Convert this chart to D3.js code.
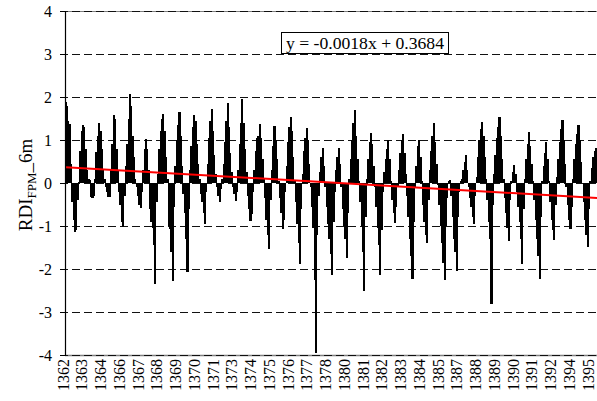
<!DOCTYPE html>
<html><head><meta charset="utf-8">
<script src="https://cdn.jsdelivr.net/npm/d3@7"></script>
<style>html,body{margin:0;padding:0;background:#fff}svg{display:block}</style>
</head><body>
<svg id="chart" width="597" height="401"></svg>
<script>
// Monthly RDI (FPM, 6-month) values, Mehr 1362 .. Esfand 1395, one row per water year
const rdi = [
  1.88, 1.80, 1.45, 1.38, 0.45, -0.45, -0.85, -1.13, -1.10, -0.40, 0.02, 0.74,
  1.20, 1.36, 1.30, 0.80, 0.30, 0.10, 0.08, -0.33, -0.35, -0.30, 0.10, 0.72,
  1.10, 1.40, 1.20, 0.80, 0.30, 0.10, -0.10, -0.20, -0.33, -0.32, 0.30, 0.90,
  1.58, 1.50, 0.80, 0.30, -0.20, -0.50, -0.90, -1.03, -0.30, 0.40, 0.90, 1.50,
  2.07, 1.80, 1.10, 0.60, 0.10, -0.10, -0.30, -0.50, -0.57, -0.20, 0.30, 0.80,
  1.02, 0.80, 0.30, -0.60, -0.90, -1.05, -1.45, -2.36, -0.45, 0.20, 0.80, 1.20,
  1.50, 1.60, 1.20, 0.60, 0.10, -1.00, -1.07, -1.60, -2.28, -0.55, 0.40, 1.00,
  1.35, 1.66, 1.10, 0.40, -0.25, -0.70, -1.30, -2.06, -0.60, 0.30, 0.85, 1.30,
  1.59, 1.45, 0.90, 0.45, 0.10, -0.25, -0.45, -0.70, -0.96, -0.20, 0.45, 1.05,
  1.45, 1.71, 1.20, 0.65, 0.20, -0.10, -0.30, -0.45, -0.15, 0.10, 0.45, 0.95,
  1.45, 1.87, 1.30, 0.70, 0.25, -0.10, -0.25, -0.41, -0.20, 0.30, 0.90, 1.40,
  1.95, 1.40, 0.80, 0.25, -0.30, -0.60, -0.88, -0.72, -0.20, 0.30, 0.75, 1.05,
  1.10, 1.38, 1.05, 0.55, 0.10, -0.35, -0.85, -1.20, -1.54, -0.40, 0.30, 0.85,
  1.32, 1.00, 0.55, 0.05, -0.35, -0.70, -1.07, -0.85, -0.20, 0.40, 0.95, 1.30,
  1.53, 1.20, 0.60, 0.05, -0.45, -0.95, -1.40, -1.89, -0.60, 0.20, 0.75, 1.05,
  1.28, 1.00, 0.45, -0.10, -0.55, -1.05, -2.25, -3.95, -1.20, -0.30, 0.25, 0.60,
  0.81, 0.40, -0.10, -0.55, -0.95, -1.30, -1.65, -2.15, -0.90, -0.20, 0.30, 0.60,
  0.81, 0.45, -0.10, -0.60, -1.00, -1.30, -1.75, -0.70, 0.10, 0.55, 1.00, 1.40,
  1.69, 1.10, 0.55, 0.05, -0.45, -1.00, -1.60, -2.50, -0.80, 0.10, 0.55, 0.95,
  1.17, 0.90, 0.40, -0.10, -0.55, -1.05, -1.45, -2.15, -1.10, -0.20, 0.25, 0.55,
  0.80, 0.99, 0.55, 0.05, -0.40, -0.70, -0.92, -0.55, -0.10, 0.30, 0.70, 1.00,
  1.14, 0.70, 0.20, -0.30, -0.80, -1.30, -1.70, -2.23, -0.90, -0.10, 0.40, 0.85,
  1.01, 0.60, 0.05, -0.50, -0.90, -1.20, -1.39, -0.40, 0.30, 0.75, 1.10, 1.39,
  0.95, 0.45, -0.05, -0.50, -1.00, -1.40, -1.85, -2.26, -1.00, -0.35, 0.05, 0.08,
  -0.30, -0.80, -1.30, -1.60, -2.05, -0.80, -0.20, 0.05, 0.10, 0.30, 0.50, 0.64,
  0.30, -0.10, -0.35, -0.55, -0.80, -0.96, -0.30, 0.15, 0.60, 1.00, 1.25, 1.43,
  1.10, 0.60, 0.10, -0.40, -0.90, -1.30, -2.81, -0.50, 0.20, 0.65, 1.05, 1.30,
  1.53, 1.10, 0.55, 0.10, -0.35, -0.70, -1.05, -1.35, -0.40, 0.05, 0.25, 0.42,
  0.20, -0.20, -0.55, -0.90, -1.30, -1.89, -0.60, 0.10, 0.55, 0.90, 1.18, 0.85,
  0.45, 0.05, -0.40, -0.85, -1.30, -1.70, -2.24, -0.80, 0.05, 0.40, 0.70, 0.95,
  0.55, 0.05, -0.45, -0.85, -1.10, -1.33, -0.50, 0.15, 0.55, 0.95, 1.25, 1.46,
  1.00, 0.45, -0.10, -0.50, -0.85, -1.07, -0.55, 0.10, 0.55, 0.90, 1.15, 1.35,
  1.00, 0.50, 0.00, -0.45, -0.85, -1.20, -1.48, -0.60, 0.05, 0.35, 0.60, 0.75,
  0.81, 0.55, 0.10, -0.35, -0.80, -1.10
];
// category axis labels (shown every 14th month)
const xTickLabels = ["1362","1363","1364","1366","1367","1368","1369","1370","1371","1373",
  "1374","1375","1376","1377","1378","1380","1381","1382","1383","1384","1385","1387",
  "1388","1389","1390","1391","1392","1394","1395"];
const xTickStep = 14;
const yTicks = [-4, -3, -2, -1, 0, 1, 2, 3, 4];
const trendSlope = -0.0018;
const trendIntercept = 0.3684;
const equationText = "y = -0.0018x + 0.3684";

(function () {
const svg = d3.select("#chart");
const W = 597, H = 401;
const mLeft = 65, mTop = 11, mBottom = 355;
const mRight = mLeft + rdi.length * 1.339;
const font = "'Liberation Serif','Times New Roman',serif";

svg.append("rect").attr("width", W).attr("height", H).attr("fill", "#fff");

const x = d3.scaleBand().domain(d3.range(rdi.length)).range([mLeft, mRight]).padding(0);
const y = d3.scaleLinear().domain([-4, 4]).range([mBottom, mTop]);

// plot border (grey) top & bottom
svg.append("line").attr("x1", mLeft).attr("x2", mRight).attr("y1", mTop + 0.5).attr("y2", mTop + 0.5)
  .attr("stroke", "#808080").attr("stroke-width", 1);
svg.append("line").attr("x1", mLeft).attr("x2", mRight).attr("y1", mBottom + 0.5).attr("y2", mBottom + 0.5)
  .attr("stroke", "#808080").attr("stroke-width", 1.5);

// dashed gridlines
svg.append("g").selectAll("line").data(yTicks).join("line")
  .attr("x1", mLeft - 5).attr("x2", mRight)
  .attr("y1", d => Math.round(y(d)) + 0.5).attr("y2", d => Math.round(y(d)) + 0.5)
  .attr("stroke", "#111").attr("stroke-width", 1)
  .attr("stroke-dasharray", "8,4");

// bars
svg.append("g").attr("shape-rendering", "crispEdges").selectAll("rect").data(rdi).join("rect")
  .attr("x", (d, i) => x(i) - 0.4)
  .attr("width", x.bandwidth() + 0.8)
  .attr("y", d => y(Math.max(0, d)))
  .attr("height", d => Math.abs(y(d) - y(0)))
  .attr("fill", "#000");

// trend line
const tl = [0, rdi.length - 1];
svg.append("line")
  .attr("x1", x(tl[0]) + x.bandwidth() / 2)
  .attr("x2", x(tl[1]) + x.bandwidth() / 2)
  .attr("y1", y(trendSlope * (tl[0] + 1) + trendIntercept))
  .attr("y2", y(trendSlope * (tl[1] + 1) + trendIntercept))
  .attr("stroke", "#ff0000").attr("stroke-width", 2);

// y axis
svg.append("line").attr("x1", mLeft + 0.5).attr("x2", mLeft + 0.5).attr("y1", mTop).attr("y2", mBottom + 1)
  .attr("stroke", "#000").attr("stroke-width", 1.2);
svg.append("g").selectAll("line").data(yTicks).join("line")
  .attr("x1", mLeft - 5).attr("x2", mLeft)
  .attr("y1", d => Math.round(y(d)) + 0.5).attr("y2", d => Math.round(y(d)) + 0.5)
  .attr("stroke", "#000");
svg.append("g").selectAll("text").data(yTicks).join("text")
  .attr("x", 52).attr("y", d => y(d))
  .attr("dy", "0.35em")
  .attr("text-anchor", "end")
  .attr("font-family", font).attr("font-size", 16)
  .text(d => d);

// x labels
svg.append("g").selectAll("text").data(xTickLabels).join("text")
  .attr("transform", (d, k) => `translate(${x(k * xTickStep) + x.bandwidth() / 2 + 3},${mBottom + 4}) rotate(-90)`)
  .attr("text-anchor", "end")
  .attr("font-family", font).attr("font-size", 16)
  .text(d => d);

// y axis title
const title = svg.append("text")
  .attr("transform", `translate(32,185) rotate(-90)`)
  .attr("text-anchor", "middle")
  .attr("font-family", font).attr("font-size", 19);
title.append("tspan").text("RDI");
title.append("tspan").attr("font-size", 13).attr("dy", 4).text("FPM");
title.append("tspan").attr("dy", -4).text("_6m");

// equation box
const eq = svg.append("g");
eq.append("rect").attr("x", 281.5).attr("y", 32.5).attr("width", 167).attr("height", 21)
  .attr("fill", "#fff").attr("stroke", "#000").attr("stroke-width", 1);
eq.append("text").attr("x", 365).attr("y", 48.5).attr("text-anchor", "middle")
  .attr("font-family", font).attr("font-size", 16)
  .attr("textLength", 158).attr("lengthAdjust", "spacingAndGlyphs")
  .text(equationText);
})();
</script>
</body></html>
